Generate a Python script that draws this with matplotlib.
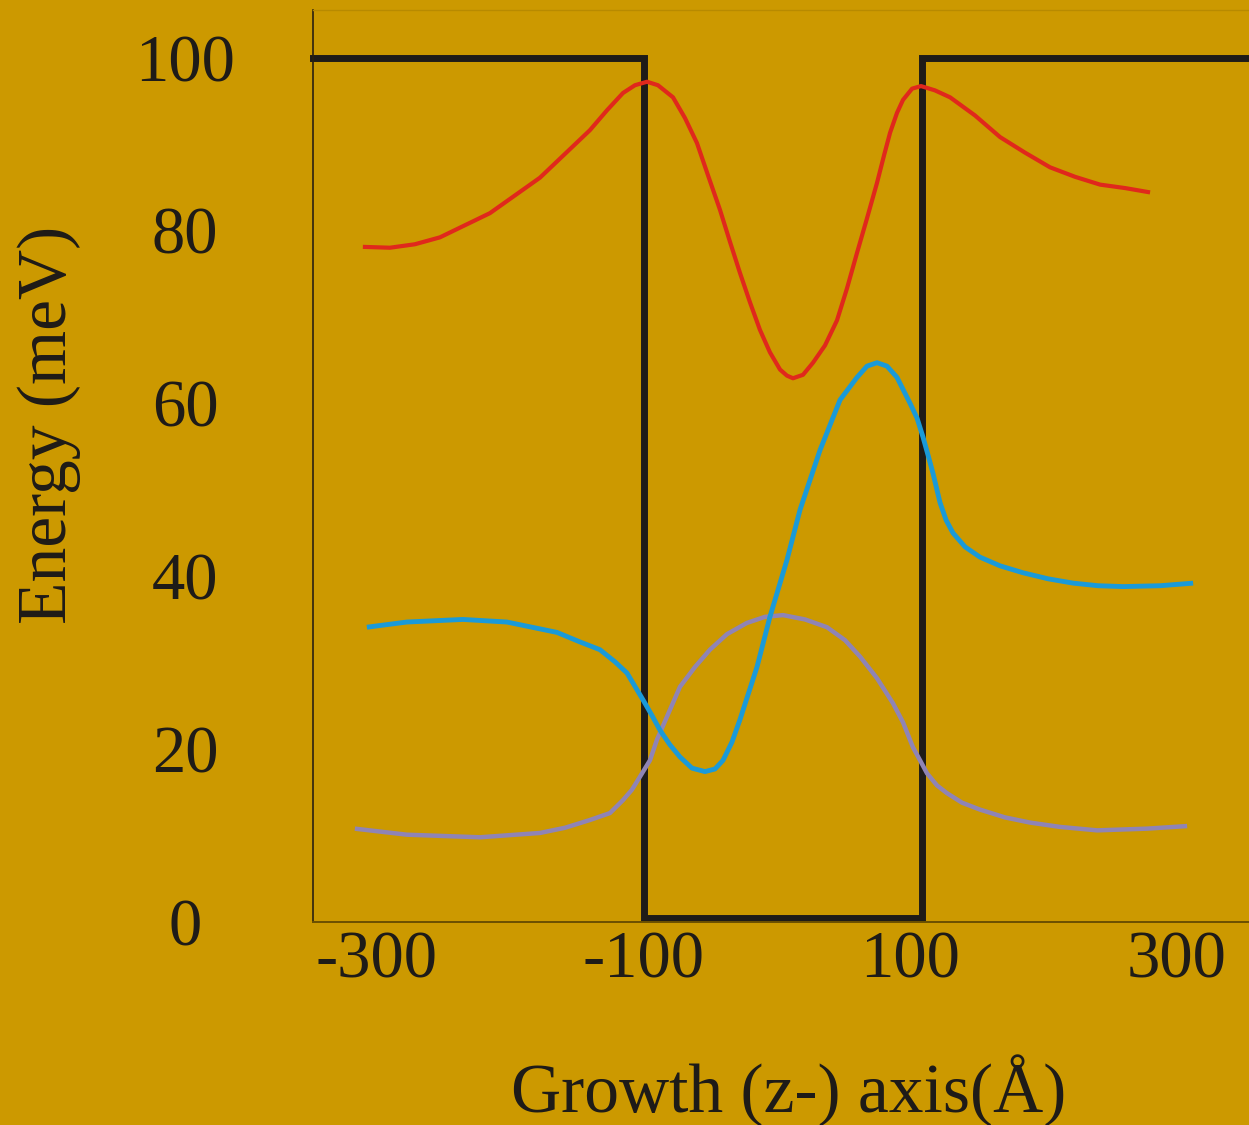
import matplotlib
matplotlib.use("Agg")
import matplotlib.pyplot as plt

# ---- data ----
z_red = [-310.6, -290.3, -271.6, -252.8, -215.3, -177.8, -140.3, -127.5, -115.5, -106.5,
         -97.5, -89.3, -78.0, -69.0, -60.0, -51.8, -42.8, -35.3, -27.8, -20.3,
         -12.8, -5.3, 2.3, 7.5, 12.0, 19.5, 27.0, 36.0, 45.0, 52.5,
         60.0, 67.5, 75.0, 80.3, 84.8, 90.0, 94.5, 101.3, 108.0, 118.5,
         129.8, 148.5, 167.3, 186.0, 204.8, 223.6, 242.3, 261.1, 279.8]
e_red = [78.1, 78.0, 78.4, 79.2, 82.0, 86.1, 91.6, 93.9, 95.9, 96.8,
         97.2, 96.8, 95.4, 93.0, 90.1, 86.4, 82.4, 78.7, 75.1, 71.7,
         68.5, 65.9, 63.9, 63.2, 62.9, 63.3, 64.7, 66.7, 69.6, 73.3,
         77.4, 81.4, 85.5, 88.7, 91.3, 93.6, 95.1, 96.4, 96.7, 96.2,
         95.4, 93.3, 90.8, 89.0, 87.3, 86.2, 85.3, 84.9, 84.4]

z_blue = [-307.6, -277.6, -235.6, -202.6, -165.0, -147.8, -132.8, -121.5, -112.5, -100.5,
          -93.8, -87.8, -80.3, -72.8, -63.8, -54.0, -46.5, -40.5, -33.8, -27.8,
          -15.0, -5.3, 7.5, 17.3, 32.3, 47.3, 60.0, 67.5, 75.0, 82.5,
          90.0, 99.8, 105.0, 109.5, 113.3, 117.0, 122.3, 126.8, 132.0, 141.0,
          152.3, 167.3, 184.5, 203.3, 222.1, 240.8, 259.6, 287.3, 312.1]
e_blue = [34.1, 34.7, 35.0, 34.7, 33.5, 32.4, 31.5, 30.1, 28.8, 25.7,
          23.9, 22.2, 20.5, 19.1, 17.8, 17.4, 17.7, 18.7, 20.8, 23.4,
          29.5, 35.3, 41.9, 47.7, 54.6, 60.4, 63.0, 64.3, 64.7, 64.3,
          63.0, 60.0, 58.3, 56.1, 54.0, 51.9, 48.5, 46.5, 45.0, 43.4,
          42.2, 41.2, 40.4, 39.7, 39.2, 38.9, 38.8, 38.9, 39.2]

z_purple = [-316.6, -277.6, -222.8, -177.8, -159.0, -140.3, -125.3, -115.5, -108.8, -102.8,
            -95.3, -90.0, -72.8, -61.5, -50.3, -37.5, -22.5, -9.0, 4.5, 21.0,
            37.5, 51.0, 62.3, 75.0, 87.0, 94.5, 102.0, 107.3, 112.5, 120.0,
            127.5, 138.8, 152.3, 171.0, 189.8, 212.3, 240.1, 277.6, 307.6]
e_purple = [10.8, 10.1, 9.8, 10.3, 10.9, 11.8, 12.6, 14.1, 15.3, 16.8,
            18.7, 21.1, 27.2, 29.5, 31.5, 33.3, 34.6, 35.3, 35.5, 35.0,
            34.1, 32.6, 30.7, 28.2, 25.3, 23.1, 20.2, 18.7, 17.2, 15.8,
            14.9, 13.8, 13.0, 12.1, 11.5, 11.0, 10.6, 10.8, 11.1]

z_well = [-348, -100, -100, 109, 109, 354]
v_well = [100, 100, 0.5, 0.5, 100, 100]

x_ticks = [-300, -100, 100, 300]
x_ticklabels = ["-300", "-100", "100", "300"]
y_ticks = [0, 20, 40, 60, 80, 100]
y_ticklabels = ["0", "20", "40", "60", "80", "100"]

BG = "#CC9900"
W, H = 1249, 1125

fig = plt.figure(figsize=(W / 100, H / 100), dpi=100, facecolor=BG)
ax = fig.add_axes([313 / W, 1 - 922 / H, (W - 313) / W, (922 - 10) / H])
ax.set_facecolor(BG)

ax.plot(z_well, v_well, color="#1E1B18", lw=5.0, solid_joinstyle="miter", zorder=2, clip_on=False)
ax.plot(z_red, e_red, color="#E0281C", lw=3.0, solid_joinstyle="round", solid_capstyle="butt", zorder=3)
ax.plot(z_purple, e_purple, color="#8F84B5", lw=3.2, solid_joinstyle="round", solid_capstyle="butt", zorder=3)
ax.plot(z_blue, e_blue, color="#1A9AD8", lw=3.5, solid_joinstyle="round", solid_capstyle="butt", zorder=4)

ax.set_xlim(-348, 354)
ax.set_ylim(0, 105.5)

ax.spines["right"].set_visible(False)
ax.spines["left"].set_color("#2A2010")
ax.spines["left"].set_linewidth(1.2)
ax.spines["bottom"].set_color("#6B5000")
ax.spines["bottom"].set_linewidth(1.4)
ax.spines["top"].set_color("#B88A00")
ax.spines["top"].set_linewidth(1.0)

font = "Liberation Serif"
ax.set_xticks(x_ticks)
ax.set_xticklabels(x_ticklabels, fontsize=48, family=font, color="#1E1B18")
ax.set_yticks(y_ticks)
ax.set_yticklabels(y_ticklabels, fontsize=48, family=font, color="#1E1B18")
ax.tick_params(axis="x", length=0, pad=6)
ax.tick_params(axis="y", length=0, pad=92)
for lab in ax.get_yticklabels():
    lab.set_horizontalalignment("center")

ax.set_xlabel("Growth (z-) axis(Å)", fontsize=50, family=font, color="#1E1B18", va="baseline")
ax.xaxis.set_label_coords((789 - 313) / (W - 313), (922 - 1112) / (922 - 10))
ax.set_ylabel("Energy (meV)", fontsize=50, family=font, color="#1E1B18", va="center", ha="center")
ax.yaxis.set_label_coords((49 - 313) / (W - 313), (922 - 425) / (922 - 10))

fig.savefig("out.png", dpi=100, facecolor=BG)
